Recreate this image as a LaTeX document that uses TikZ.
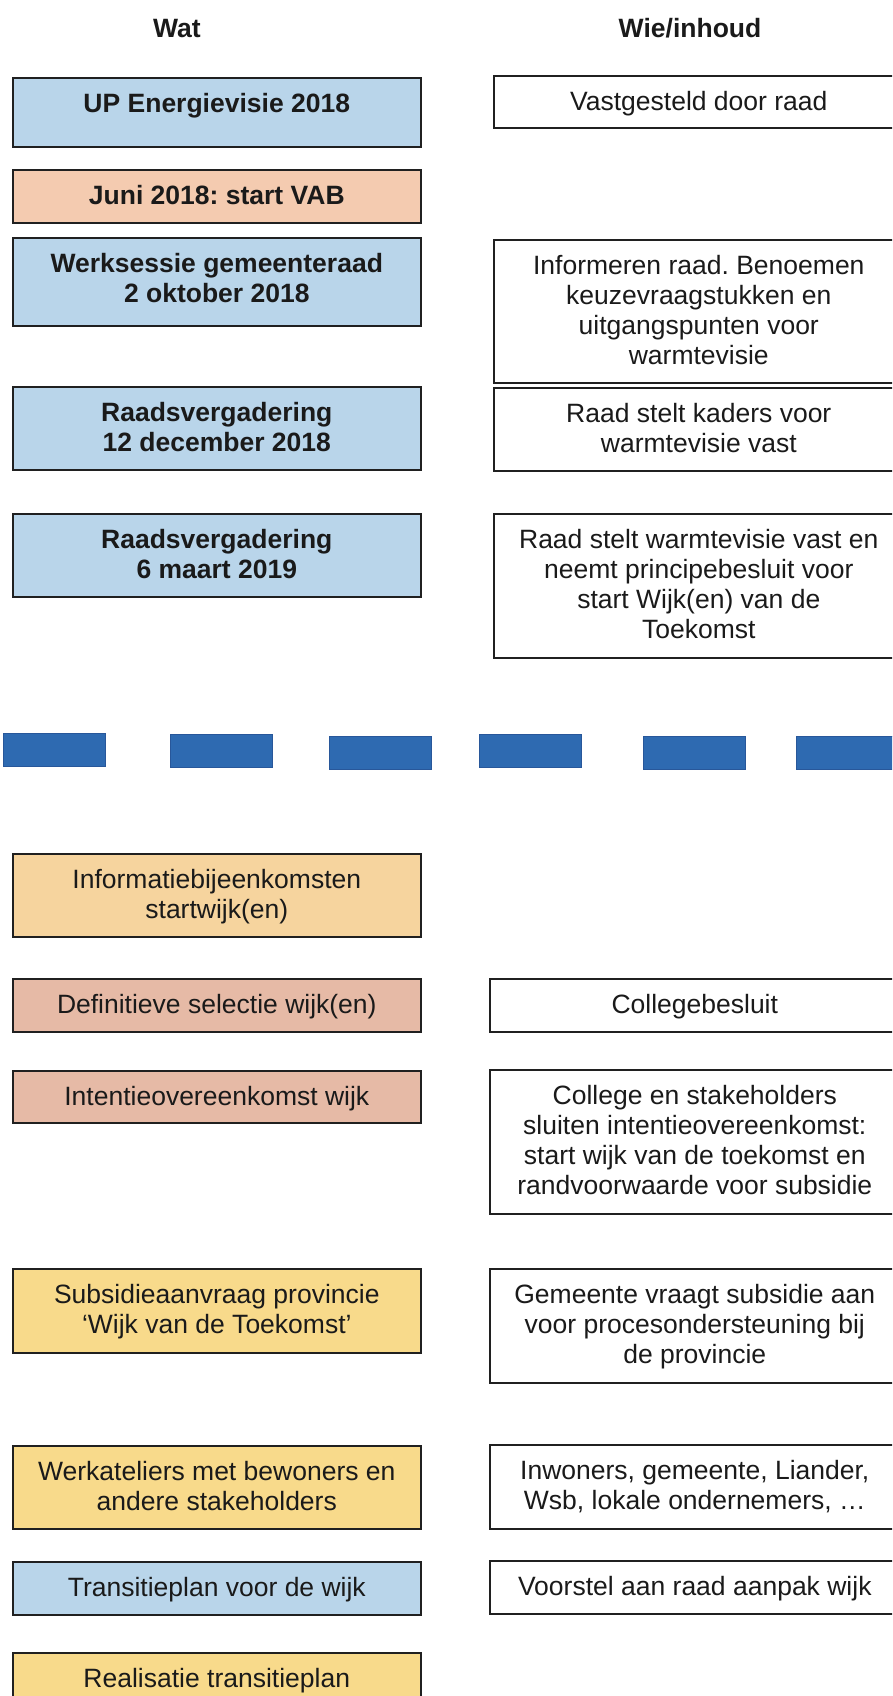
\documentclass[tikz,border=0pt]{standalone}
\usepackage{fontspec}
\setmainfont{Liberation Sans}
\frenchspacing
\definecolor{boxline}{HTML}{202020}
\definecolor{textcol}{HTML}{1A1A1A}
\definecolor{blauwfill}{HTML}{B9D5EA}
\definecolor{perzikfill}{HTML}{F4CBB0}
\definecolor{oranjefill}{HTML}{F6D49E}
\definecolor{zalmfill}{HTML}{E6BAA6}
\definecolor{geelfill}{HTML}{F8DA8B}
\definecolor{streepfill}{HTML}{2E6AB1}
\definecolor{streepline}{HTML}{28579A}

\begin{document}
\begin{tikzpicture}[
    x = 1pt, y = -1pt,
    box/.style = {draw = boxline, line width = 1.6pt, anchor = north west, inner sep = 0pt},
    leftbox/.style = {box, minimum width = 408pt},
    rightbox/.style = {box, minimum width = 410pt, fill = white},
    blauw/.style = {fill = blauwfill},
    perzik/.style = {fill = perzikfill},
    oranje/.style = {fill = oranjefill},
    zalm/.style = {fill = zalmfill},
    geel/.style = {fill = geelfill},
    txt/.style = {anchor = north, align = center, inner sep = 0pt, text = textcol,
                  font = \fontsize{26.5}{30}\selectfont},
    vet/.style = {txt, font = \bfseries\fontsize{26.5}{30}\selectfont},
    streep/.style = {fill = streepfill, draw = streepline, line width = 0.8pt}
  ]
  \useasboundingbox (0,0) rectangle (892,1696);
  \clip (0,0) rectangle (892,1696);

  % Headers
  \node[vet] (wat) at (177,16) {\strut Wat};
  \node[vet] (wie) at (690,16) {\strut Wie/inhoud};

  % Wat column, top part
  \node[leftbox, blauw, minimum height = 69] (up) at (12,77) {};
  \node[leftbox, perzik, minimum height = 53] (juni) at (12,169) {};
  \node[leftbox, blauw, minimum height = 88] (werk) at (12,237) {};
  \node[leftbox, blauw, minimum height = 83] (raad1) at (12,386) {};
  \node[leftbox, blauw, minimum height = 83] (raad2) at (12,513) {};

  \node[vet] (upT) at ([yshift=-14pt]up.north) {\strut UP Energievisie 2018};
  \node[vet] (juniT) at ([yshift=-14pt]juni.north) {\strut Juni 2018: start VAB};
  \node[vet] (werkT) at ([yshift=-14pt]werk.north) {\strut Werksessie gemeenteraad\\2 oktober 2018};
  \node[vet] (raad1T) at ([yshift=-14pt]raad1.north) {\strut Raadsvergadering\\12 december 2018};
  \node[vet] (raad2T) at ([yshift=-14pt]raad2.north) {\strut Raadsvergadering\\6 maart 2019};

  % Wie/inhoud column, top part
  \node[rightbox, minimum height = 52] (vast) at (493,75) {};
  \node[rightbox, minimum height = 143] (inform) at (493,239) {};
  \node[rightbox, minimum height = 83] (kaders) at (493,387) {};
  \node[rightbox, minimum height = 144] (stelt) at (493,513) {};

  \node[txt] (vastT) at ([yshift=-14pt]vast.north) {\strut Vastgesteld door raad};
  \node[txt] (informT) at ([yshift=-14pt]inform.north) {\strut Informeren raad. Benoemen\\keuzevraagstukken en\\uitgangspunten voor\\warmtevisie};
  \node[txt] (kadersT) at ([yshift=-14pt]kaders.north) {\strut Raad stelt kaders voor\\warmtevisie vast};
  \node[txt] (steltT) at ([yshift=-14pt]stelt.north) {\strut Raad stelt warmtevisie vast en\\neemt principebesluit voor\\start Wijk(en) van de\\Toekomst};

  % Divider
  \foreach \xa/\ya in {3/733, 170/734, 329/736, 479/734, 643/736, 796/736}
    \draw[streep] (\xa,\ya) rectangle ++(102,33);

  % Wat column, bottom part
  \node[leftbox, oranje, minimum height = 83] (info) at (12,853) {};
  \node[leftbox, zalm, minimum height = 53] (defsel) at (12,978) {};
  \node[leftbox, zalm, minimum height = 52] (intentie) at (12,1070) {};
  \node[leftbox, geel, minimum height = 84] (subsidie) at (12,1268) {};
  \node[leftbox, geel, minimum height = 83] (ateliers) at (12,1445) {};
  \node[leftbox, blauw, minimum height = 53] (transitie) at (12,1561) {};
  \node[leftbox, geel, minimum height = 60] (realisatie) at (12,1652) {};

  \node[txt] (infoT) at ([yshift=-14pt]info.north) {\strut Informatiebijeenkomsten\\startwijk(en)};
  \node[txt] (defselT) at ([yshift=-14pt]defsel.north) {\strut Definitieve selectie wijk(en)};
  \node[txt] (intentieT) at ([yshift=-14pt]intentie.north) {\strut Intentieovereenkomst wijk};
  \node[txt] (subsidieT) at ([yshift=-14pt]subsidie.north) {\strut Subsidieaanvraag provincie\\‘Wijk van de Toekomst’};
  \node[txt] (ateliersT) at ([yshift=-14pt]ateliers.north) {\strut Werkateliers met bewoners en\\andere stakeholders};
  \node[txt] (transitieT) at ([yshift=-14pt]transitie.north) {\strut Transitieplan voor de wijk};
  \node[txt] (realisatieT) at ([yshift=-14pt]realisatie.north) {\strut Realisatie transitieplan};

  % Wie/inhoud column, bottom part
  \node[rightbox, minimum height = 53] (college) at (489,978) {};
  \node[rightbox, minimum height = 144] (sluiten) at (489,1069) {};
  \node[rightbox, minimum height = 114] (gemeente) at (489,1268) {};
  \node[rightbox, minimum height = 84] (inwoners) at (489,1444) {};
  \node[rightbox, minimum height = 53] (voorstel) at (489,1560) {};

  \node[txt] (collegeT) at ([yshift=-14pt]college.north) {\strut Collegebesluit};
  \node[txt] (sluitenT) at ([yshift=-14pt]sluiten.north) {\strut College en stakeholders\\sluiten intentieovereenkomst:\\start wijk van de toekomst en\\randvoorwaarde voor subsidie};
  \node[txt] (gemeenteT) at ([yshift=-14pt]gemeente.north) {\strut Gemeente vraagt subsidie aan\\voor procesondersteuning bij\\de provincie};
  \node[txt] (inwonersT) at ([yshift=-14pt]inwoners.north) {\strut Inwoners, gemeente, Liander,\\Wsb, lokale ondernemers, …};
  \node[txt] (voorstelT) at ([yshift=-14pt]voorstel.north) {\strut Voorstel aan raad aanpak wijk};
\end{tikzpicture}
\end{document}
